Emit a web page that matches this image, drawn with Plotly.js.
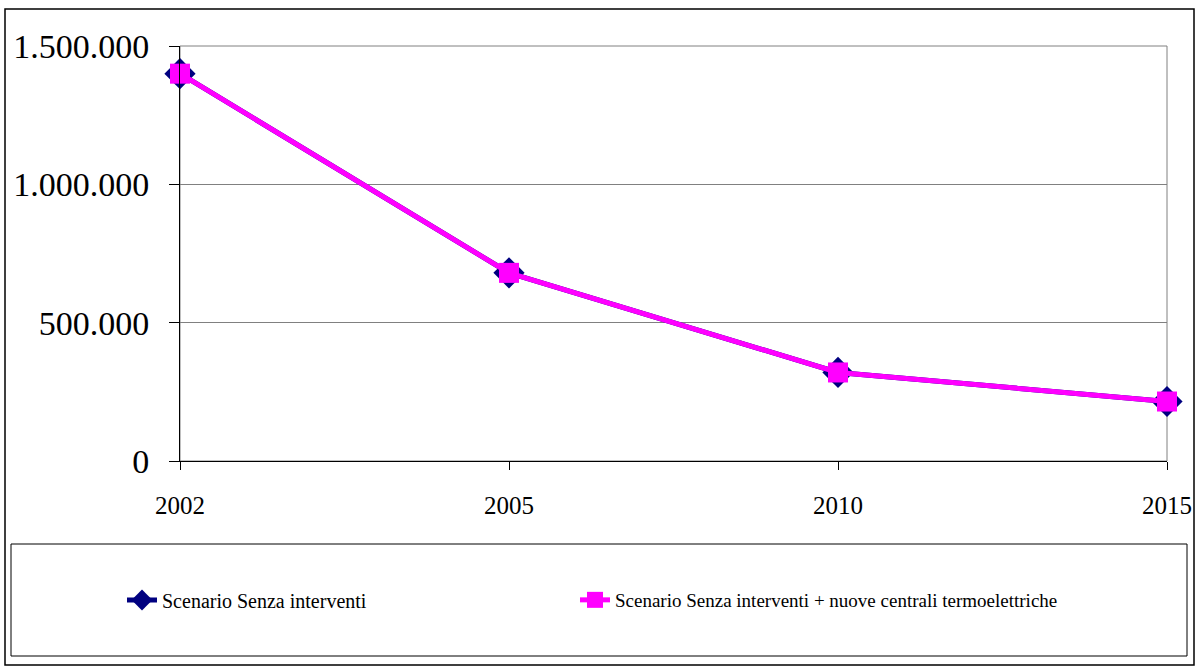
<!DOCTYPE html>
<html>
<head>
<meta charset="utf-8">
<script src="https://cdn.plot.ly/plotly-3.0.1.min.js"></script>
<style>
html,body{margin:0;padding:0;background:#fff;}
#chart{width:1201px;height:666px;}
</style>
</head>
<body>
<div id="chart"></div>
<script>
const years = ["2002", "2005", "2010", "2015"];
const seriesNames = ["Scenario Senza interventi", "Scenario Senza interventi + nuove centrali termoelettriche"];
const senzaInterventi = [1400000, 680000, 320000, 215000];
const nuoveCentrali = [1400000, 680000, 320000, 215000];
const yTicks = [0, 500000, 1000000, 1500000];

const FONT = "Liberation Serif, Times New Roman, serif";
const L = 180, R = 34, T = 46, B = 205;
const PW = 1201 - L - R, PH = 666 - T - B;
const px = v => (v - L) / PW;
const py = v => (666 - B - v) / PH;

const traces = [
  {
    x: years, y: senzaInterventi, name: seriesNames[0], type: "scatter", mode: "lines+markers",
    line: {color: "#000080", width: 5},
    marker: {symbol: "diamond", size: 24, color: "#000080"},
    cliponaxis: false, legend: "legend"
  },
  {
    x: years, y: nuoveCentrali, name: seriesNames[1], type: "scatter", mode: "lines+markers",
    line: {color: "#FF00FF", width: 5},
    marker: {symbol: "square", size: 20, color: "#FF00FF"},
    cliponaxis: false, legend: "legend2"
  }
];

const legendCommon = {
  orientation: "h", yanchor: "middle", xanchor: "left",
  bgcolor: "rgba(0,0,0,0)", borderwidth: 0
};

const layout = {
  width: 1201, height: 666,
  margin: {l: L, r: R, t: T, b: B, pad: 0},
  paper_bgcolor: "#fff", plot_bgcolor: "#fff",
  separators: ",.",
  showlegend: true,
  font: {family: FONT, color: "#000"},
  xaxis: {
    type: "category", range: [0, 3], fixedrange: true,
    showgrid: false, zeroline: false,
    showline: true, linecolor: "#000", linewidth: 1,
    ticks: "outside", ticklen: 8, tickcolor: "#000", tickwidth: 1,
    ticklabelstandoff: 14,
    tickfont: {family: FONT, size: 25, color: "#000"}
  },
  yaxis: {
    range: [0, 1500000], tickvals: yTicks, tickformat: ",d",
    showgrid: true, gridcolor: "#808080", gridwidth: 1,
    zeroline: false, showline: true, linecolor: "#000", linewidth: 1,
    ticks: "outside", ticklen: 10, tickcolor: "#000", tickwidth: 1,
    ticklabelstandoff: 13,
    tickfont: {family: FONT, size: 34, color: "#000"}
  },
  legend: Object.assign({}, legendCommon, {x: px(122), y: py(600),
    font: {family: FONT, size: 20, color: "#000"}}),
  legend2: Object.assign({}, legendCommon, {x: px(575), y: py(600),
    font: {family: FONT, size: 19, color: "#000"}}),
  shapes: [
    {type: "rect", xref: "paper", yref: "paper", x0: 0, x1: 1, y0: 0, y1: 1,
     line: {color: "#808080", width: 1}, layer: "below"},
    {type: "rect", xref: "paper", yref: "paper", x0: px(11), x1: px(1187), y0: py(656), y1: py(544),
     line: {color: "#000", width: 1}},
    {type: "rect", xref: "paper", yref: "paper", x0: px(5), x1: px(1194), y0: py(665), y1: py(9),
     line: {color: "#000", width: 1.5}}
  ]
};

Plotly.newPlot("chart", traces, layout, {staticPlot: true, displayModeBar: false});
</script>
</body>
</html>
